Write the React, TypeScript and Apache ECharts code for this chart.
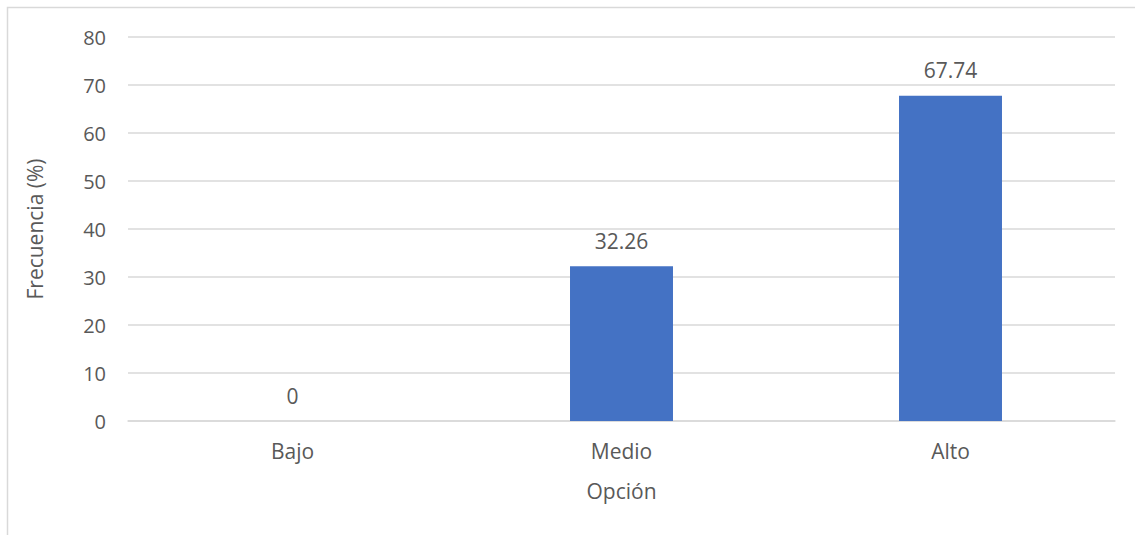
import React, { useEffect, useRef } from "react";
import * as echarts from "echarts";

const categories = ["Bajo", "Medio", "Alto"];
const frecuencia = [0, 32.26, 67.74];
const yTicks = { min: 0, max: 80, interval: 10 };

const FONT = "'Open Sans', 'Noto Sans', sans-serif";
const TEXT = "#595959";
const GRID = "#d9d9d9";

export default function App() {
  const ref = useRef<HTMLDivElement>(null);
  useEffect(() => {
    document.body.style.margin = "0";
    const chart = echarts.init(ref.current!, null, { renderer: "svg" });
    chart.setOption({
      animation: false,
      backgroundColor: "#ffffff",
      textStyle: { fontFamily: FONT },
      graphic: [
        {
          type: "rect",
          shape: { x: 7.5, y: 7.5, width: 1400, height: 800 },
          style: { fill: "none", stroke: GRID, lineWidth: 1.5 },
          silent: true,
        },
      ],
      grid: { left: 128, right: 20, top: 37, bottom: 114, containLabel: false },
      xAxis: {
        type: "category",
        data: categories,
        name: "Opción",
        nameLocation: "middle",
        nameGap: 59,
        nameTextStyle: { color: TEXT, fontSize: 21, fontFamily: FONT },
        axisLine: { show: true, lineStyle: { color: GRID, width: 1.5 } },
        axisTick: { show: false },
        axisLabel: { color: TEXT, fontSize: 21, fontFamily: FONT, margin: 19 },
      },
      yAxis: {
        type: "value",
        min: yTicks.min,
        max: yTicks.max,
        interval: yTicks.interval,
        name: "Frecuencia (%)",
        nameLocation: "middle",
        nameGap: 83,
        nameTextStyle: { color: TEXT, fontSize: 21, fontFamily: FONT },
        axisLine: { show: false },
        axisTick: { show: false },
        axisLabel: { color: TEXT, fontSize: 20, fontFamily: FONT, margin: 22 },
        splitLine: { show: true, lineStyle: { color: GRID, width: 1.5 } },
      },
      series: [
        {
          type: "bar",
          data: frecuencia,
          barWidth: "31.3%",
          itemStyle: { color: "#4472C4" },
          label: {
            show: true,
            position: "top",
            distance: 15,
            color: TEXT,
            fontSize: 21,
            fontFamily: FONT,
            formatter: (p: any) => String(p.value),
          },
        },
      ],
    });
    return () => chart.dispose();
  }, []);
  return <div ref={ref} style={{ width: 1135, height: 535 }} />;
}
